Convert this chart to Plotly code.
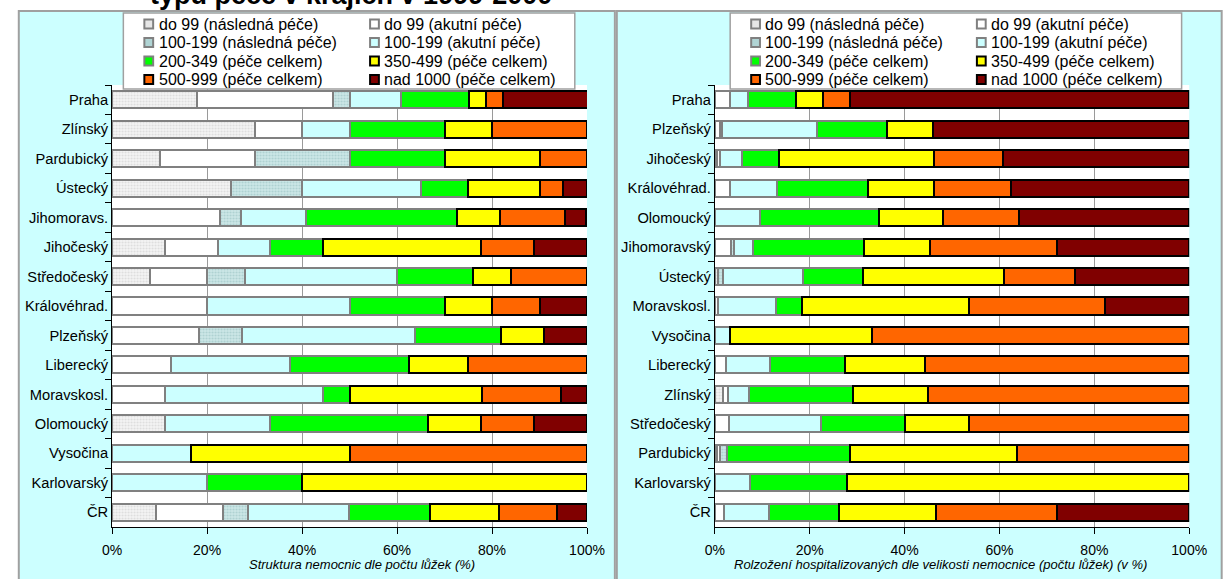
import plotly.graph_objects as go

W, H = 1226, 579
FONT = "Arial, Liberation Sans, sans-serif"

# ---- data -------------------------------------------------------------
series_names = [
    "do 99 (následná péče)", "do 99 (akutní péče)",
    "100-199 (následná péče)", "100-199 (akutní péče)",
    "200-349 (péče celkem)", "350-499 (péče celkem)",
    "500-999 (péče celkem)", "nad 1000 (péče celkem)",
]

# structure of hospitals by number of beds (%)
left_regions = ["Praha", "Zlínský", "Pardubický", "Ústecký", "Jihomoravs.",
                "Jihočeský", "Středočeský", "Královéhrad.", "Plzeňský",
                "Liberecký", "Moravskosl.", "Olomoucký", "Vysočina",
                "Karlovarský", "ČR"]
left_do99_nasl = [17.9, 30, 10, 25, 0, 11.1, 8, 0, 0, 0, 0, 11.1, 0, 0, 9.2]
left_do99_akut = [28.6, 10, 20, 0, 22.7, 11.1, 12, 20, 18.2, 12.5, 11.1, 0, 0, 0, 14.2]
left_100_nasl = [3.6, 0, 20, 15, 4.5, 0, 8, 0, 9.1, 0, 0, 0, 0, 0, 5.2]
left_100_akut = [10.7, 10, 0, 25, 13.6, 11.1, 32, 30, 36.4, 25, 33.3, 22.2, 16.7, 20, 21.2]
left_200 = [14.3, 20, 20, 10, 31.8, 11.1, 16, 20, 18.2, 25, 5.6, 33.3, 0, 20, 17.1]
left_350 = [3.6, 10, 20, 15, 9.1, 33.3, 8, 10, 9.1, 12.5, 27.8, 11.1, 33.3, 60, 14.6]
left_500 = [3.6, 20, 10, 5, 13.6, 11.1, 16, 10, 0, 25, 16.7, 11.1, 50, 0, 12.2]
left_1000 = [17.9, 0, 0, 5, 4.5, 11.1, 0, 10, 9.1, 0, 5.6, 11.1, 0, 0, 6.3]

# distribution of hospitalised patients by hospital size (%)
right_regions = ["Praha", "Plzeňský", "Jihočeský", "Královéhrad.", "Olomoucký",
                 "Jihomoravský", "Ústecký", "Moravskosl.", "Vysočina",
                 "Liberecký", "Zlínský", "Středočeský", "Pardubický",
                 "Karlovarský", "ČR"]
right_do99_nasl = [0, 0, 0.5, 0, 0, 0, 0.7, 0, 0, 0, 1.8, 0, 0.5, 0, 0]
right_do99_akut = [3.3, 1.0, 0.5, 3.3, 0, 3.5, 0, 0.7, 0, 2.3, 1.0, 3.0, 0.5, 0, 2.0]
right_100_nasl = [0, 0.6, 0, 0, 0, 0.5, 1.0, 0, 0, 0, 0, 0, 1.6, 0, 0]
right_100_akut = [3.6, 20.0, 4.8, 9.8, 9.5, 4.1, 16.9, 12.3, 3.2, 9.4, 4.5, 19.4, 0, 7.4, 9.4]
right_200 = [10.3, 14.7, 7.7, 19.2, 25.1, 23.4, 12.7, 5.4, 0, 15.7, 21.9, 17.7, 25.8, 20.5, 14.7]
right_350 = [5.5, 9.6, 32.6, 14.0, 13.4, 13.8, 29.7, 35.2, 30.0, 16.8, 15.8, 13.5, 35.4, 72.1, 20.5]
right_500 = [5.7, 0, 14.6, 16.1, 16.1, 26.9, 15.0, 28.7, 66.8, 55.8, 55.0, 46.4, 36.2, 0, 25.5]
right_1000 = [71.6, 54.1, 39.3, 37.6, 35.9, 27.8, 24.0, 17.7, 0, 0, 0, 0, 0, 0, 27.9]

x_tick_values = [0, 20, 40, 60, 80, 100]
x_tick_labels = ["0%", "20%", "40%", "60%", "80%", "100%"]

left_title = "Struktura nemocnic dle počtu lůžek (%)"
right_title = "Rolzožení hospitalizovaných dle velikosti nemocnice (počtu lůžek) (v %)"
chart_title = "typu péče v krajích v 1999-2000"

# ---- styles -----------------------------------------------------------
fill_colors = ["#f2f2f2", "#ffffff", "#bcdcdc", "#ccffff",
               "#00ff00", "#ffff00", "#ff6600", "#800000"]
legend_fill = ["#e6e6e6", "#ffffff", "#b0d4d4", "#ccffff",
               "#00ff00", "#ffff00", "#ff6600", "#800000"]
edge_colors = ["#808080"] * 5 + ["#000000"] * 3
patterns = [
    dict(shape=".", fgcolor="#c4c4c4", bgcolor="#f4f4f4", size=3, solidity=0.35),
    None,
    dict(shape=".", fgcolor="#8fb8b8", bgcolor="#cce8e8", size=3, solidity=0.4),
    None, None, None, None, None,
]


def px(x):
    return x / W


def py(y):
    return 1 - y / H


def clean(vals):
    return [v if v else None for v in vals]


left_sets = [left_do99_nasl, left_do99_akut, left_100_nasl, left_100_akut,
             left_200, left_350, left_500, left_1000]
right_sets = [right_do99_nasl, right_do99_akut, right_100_nasl, right_100_akut,
              right_200, right_350, right_500, right_1000]

fig = go.Figure()
for sets, regions, xa, ya in [(left_sets, left_regions, "x", "y"),
                              (right_sets, right_regions, "x2", "y2")]:
    for i, name in enumerate(series_names):
        marker = dict(color=fill_colors[i], line=dict(color=edge_colors[i], width=2))
        if patterns[i]:
            marker["pattern"] = patterns[i]
        fig.add_trace(go.Bar(
            y=regions, x=clean(sets[i]), orientation="h", name=name,
            marker=marker, xaxis=xa, yaxis=ya, showlegend=False,
        ))

plot_top, plot_bot = 85, 527
left_x0, left_x1 = 104.5, 590.5
right_x0, right_x1 = 721.3, 1206.8


def xaxis_cfg(x0, x1, anchor):
    return dict(
        domain=[px(x0), px(x1)], range=[0, 100], anchor=anchor,
        tickvals=x_tick_values, ticktext=x_tick_labels,
        showgrid=True, gridcolor="#9a9a9a", gridwidth=1, zeroline=False,
        showline=True, linecolor="#000000", linewidth=1,
        ticks="outside", ticklen=6, tickcolor="#000000", ticklabelstandoff=4,
        tickfont=dict(family=FONT, size=14, color="#000000"),
        fixedrange=True,
    )


def yaxis_cfg(regions, anchor):
    return dict(
        domain=[py(plot_bot), py(plot_top)], anchor=anchor, type="category",
        categoryorder="array", categoryarray=regions, autorange="reversed",
        showgrid=False, zeroline=False,
        showline=True, linecolor="#000000", linewidth=1,
        ticks="outside", ticklen=6, tickcolor="#000000", tickson="boundaries",
        tickfont=dict(family=FONT, size=14.7, color="#000000"),
        fixedrange=True,
    )


shapes = []
# panel backgrounds
shapes.append(dict(type="rect", xref="paper", yref="paper", layer="below",
                   x0=px(9), x1=px(619), y0=py(590), y1=py(11),
                   fillcolor="#ccffff", line=dict(color="#a0a0a0", width=2)))
shapes.append(dict(type="rect", xref="paper", yref="paper", layer="below",
                   x0=px(621), x1=px(1240), y0=py(590), y1=py(11),
                   fillcolor="#ccffff", line=dict(color="#a0a0a0", width=2)))
# white plot areas
for x0, x1 in [(left_x0, left_x1), (right_x0, right_x1)]:
    shapes.append(dict(type="rect", xref="paper", yref="paper", layer="below",
                       x0=px(x0), x1=px(x1), y0=py(plot_bot), y1=py(plot_top),
                       fillcolor="#ffffff", line=dict(width=0)))

annotations = []
# legends
legend_boxes = [(116, 578, 150, 381), (737, 1199, 771, 1002)]
row_y = [24, 42.5, 61, 79.5]
for bx0, bx1, tx1, tx2 in legend_boxes:
    shapes.append(dict(type="rect", xref="paper", yref="paper", layer="above",
                       x0=px(bx0), x1=px(bx1), y0=py(89), y1=py(13),
                       fillcolor="#ffffff", line=dict(color="#a0a0a0", width=1.5)))
    for i, name in enumerate(series_names):
        col, row = i % 2, i // 2
        tx = tx1 if col == 0 else tx2
        cy = row_y[row]
        shapes.append(dict(type="rect", xref="paper", yref="paper", layer="above",
                           x0=px(tx - 12.5), x1=px(tx - 3.5),
                           y0=py(cy + 4.5), y1=py(cy - 4.5),
                           fillcolor=legend_fill[i],
                           line=dict(color=edge_colors[i] if i < 5 else "#000000", width=2)))
        annotations.append(dict(xref="paper", yref="paper", x=px(tx), y=py(cy),
                                xanchor="left", yanchor="middle", showarrow=False,
                                text=name, font=dict(family=FONT, size=16, color="#000000")))

# axis titles
annotations.append(dict(xref="paper", yref="paper", x=px(360), y=py(564),
                        xanchor="center", yanchor="middle", showarrow=False,
                        text="<i>" + left_title + "</i>",
                        font=dict(family=FONT, size=13, color="#000000")))
annotations.append(dict(xref="paper", yref="paper", x=px(952), y=py(564),
                        xanchor="center", yanchor="middle", showarrow=False,
                        text="<i>" + right_title + "</i>",
                        font=dict(family=FONT, size=13, color="#000000")))
# chart title (its upper part runs off the top edge)
annotations.append(dict(xref="paper", yref="paper", x=px(349), y=py(-5),
                        xanchor="center", yanchor="middle", showarrow=False,
                        text="<b>" + chart_title + "</b>",
                        font=dict(family=FONT, size=27, color="#000000")))

fig.update_layout(
    width=W, height=H, margin=dict(l=0, r=0, t=0, b=0),
    paper_bgcolor="#ffffff", plot_bgcolor="#ffffff",
    barmode="stack", bargap=0.42,
    xaxis=xaxis_cfg(left_x0, left_x1, "y"),
    yaxis=yaxis_cfg(left_regions, "x"),
    xaxis2=xaxis_cfg(right_x0, right_x1, "y2"),
    yaxis2=yaxis_cfg(right_regions, "x2"),
    shapes=shapes, annotations=annotations,
    showlegend=False,
)

fig.write_html("out.html", config={"displayModeBar": False})
